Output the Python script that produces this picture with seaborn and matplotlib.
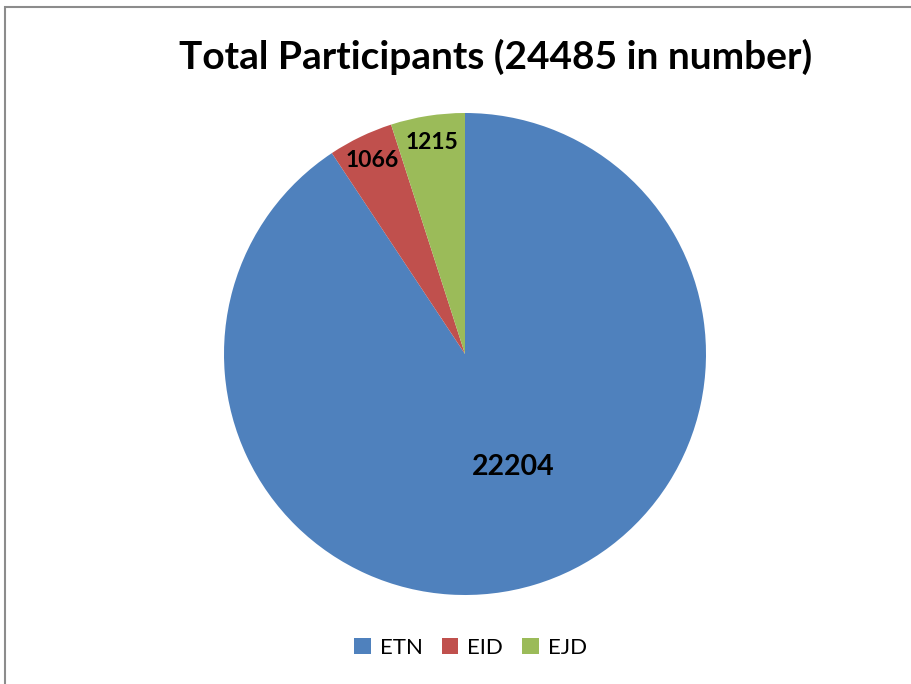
import numpy as np
import matplotlib
matplotlib.use("Agg")
import matplotlib.pyplot as plt
from matplotlib.patches import Rectangle
import seaborn as sns

# data
categories = ["ETN", "EID", "EJD"]
participants = [22204, 1066, 1215]
title = "Total Participants (24485 in number)"

sns.set_style("white")
plt.rcParams['font.family'] = ['Lato', 'DejaVu Sans']
plt.rcParams['text.color'] = 'black'

colors = ["#4F81BD", "#C0504D", "#9BBB59"]
label_dist = [0.49, 0.89, 0.89]

fig = plt.figure(figsize=(9.12, 6.84), dpi=100)
ax = fig.add_axes([224 / 912, 89 / 684, 482 / 912, 482 / 684])

wedges, _ = ax.pie(participants, colors=colors, startangle=90,
                   counterclock=False, wedgeprops=dict(linewidth=0))
ax.set_xlim(-1, 1)
ax.set_ylim(-1, 1)
ax.set_aspect("equal")

# value labels inside the slices
for w, val, d in zip(wedges, participants, label_dist):
    mid = np.deg2rad((w.theta1 + w.theta2) / 2)
    size = 20.5 if d < 0.6 else 16.5
    ax.text(d * np.cos(mid) + (0.06 if d < 0.6 else 0), d * np.sin(mid),
            str(val), ha="center", va="center", fontsize=size,
            fontweight="bold", color="black")

fig.text(0.543, 0.917, title, ha="center", va="center",
         fontsize=28, fontweight="bold", color="black")

fig.legend(wedges, categories, loc="center", bbox_to_anchor=(0.516, 0.053),
           ncol=3, frameon=False, fontsize=16, handlelength=0.75,
           handleheight=0.75, handletextpad=0.4, columnspacing=0.85)

# chart area border
fig.patches.append(Rectangle((5 / 912, -0.1), 1.2, 1 - 7 / 684 + 0.1,
                             transform=fig.transFigure, fill=False,
                             edgecolor="#8c8c8c", linewidth=1.5))

fig.savefig("out.png", dpi=100)
